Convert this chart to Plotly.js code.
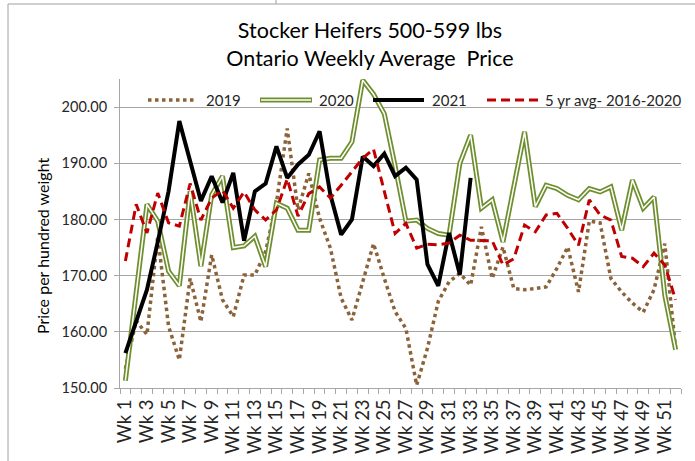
<!DOCTYPE html>
<html>
<head>
<meta charset="utf-8">
<script src="https://cdn.plot.ly/plotly-3.0.1.min.js"></script>
<style>html,body{margin:0;padding:0;background:#fff;}#chart{width:695px;height:461px;}</style>
</head>
<body>
<div id="chart"></div>
<script>
const weeks = ["Wk 1","Wk 2","Wk 3","Wk 4","Wk 5","Wk 6","Wk 7","Wk 8","Wk 9","Wk 10",
  "Wk 11","Wk 12","Wk 13","Wk 14","Wk 15","Wk 16","Wk 17","Wk 18","Wk 19","Wk 20",
  "Wk 21","Wk 22","Wk 23","Wk 24","Wk 25","Wk 26","Wk 27","Wk 28","Wk 29","Wk 30",
  "Wk 31","Wk 32","Wk 33","Wk 34","Wk 35","Wk 36","Wk 37","Wk 38","Wk 39","Wk 40",
  "Wk 41","Wk 42","Wk 43","Wk 44","Wk 45","Wk 46","Wk 47","Wk 48","Wk 49","Wk 50",
  "Wk 51","Wk 52"];
const tickLabels = ["Wk 1","","Wk 3","","Wk 5","","Wk 7","","Wk 9","",
  "Wk 11","","Wk 13","","Wk 15","","Wk 17","","Wk 19","",
  "Wk 21","","Wk 23","","Wk 25","","Wk 27","","Wk 29","",
  "Wk 31","","Wk 33","","Wk 35","","Wk 37","","Wk 39","",
  "Wk 41","","Wk 43","","Wk 45","","Wk 47","","Wk 49","",
  "Wk 51",""];
const price2019 = [153.4,162,159.5,177,161,155,169.5,161.8,173.7,165.7,
  162.7,170.1,170.1,174.3,183,196.2,181.7,188.2,180.2,174.9,
  166,162.1,168.9,175.7,169.5,163.6,160.6,150.5,157.1,165.4,
  168.9,170.4,168.3,178.7,169.5,175.1,167.7,167.5,167.7,168,
  171.3,175.1,167.1,179.7,179.4,169.5,167.1,165.1,163.5,167.5,
  175.7,157];
const price2020 = [151.3,167,182.7,179.7,170.8,168.2,185,171.7,184.4,187.7,
  175,175.3,177,171.6,182.9,182,178.1,178.1,190.6,190.9,
  190.9,193.8,204.8,202.3,198.8,189.5,179.7,179.9,178.4,177.5,
  177.2,190,195,182,183.5,176,186.1,195.6,182.3,186.1,
  185.5,184.3,183.5,185.5,184.9,185.8,178.1,187,182,184,
  166.5,156.8];
const price2021 = [156.2,162,167.5,176,185,197.5,190.5,183.3,187.7,183,
  188.3,176.2,185,186.4,193,187.4,189.8,191.5,195.7,184.4,
  177.3,180,191.2,189.5,191.7,187.7,189.2,187.1,172,168.2,
  177.6,170.2,187.4];
const avg5yr = [172.6,182.7,177.6,184.7,179.4,178.8,186.4,179.9,183.8,185.2,
  182,184.9,181.7,179.9,181.7,187.2,180.6,184.6,185.8,183.8,
  186.1,188.5,190.9,192.5,184.9,177.5,179.3,174.9,175.6,175.5,
  175.8,177.2,176.3,176.2,176.2,171.9,173,179,177.8,180.8,
  181.1,178.4,175.4,183.5,180.8,179.9,173.4,173.1,171.6,174,
  171.9,165.7];
const seriesNames = ["2019","2020","2021","5 yr avg- 2016-2020"];
const yTitle = "Price per hundred weight";

const C2019 = '#8c6239', C2020 = '#6f8f2f', C2021 = '#000000', CAVG = '#c00000';
const FONT = 'Lato, "Open Sans", sans-serif';

const traces = [
  {x: weeks, y: price2019, type: 'scatter', mode: 'lines', name: seriesNames[0],
   line: {color: C2019, width: 3.5, dash: 'dot'}, showlegend: false},
  {x: weeks, y: price2020, type: 'scatter', mode: 'lines', name: seriesNames[1],
   line: {color: C2020, width: 5}, showlegend: false},
  {x: weeks, y: price2020, type: 'scatter', mode: 'lines', name: seriesNames[1] + ' inner',
   line: {color: '#ffffff', width: 1.5}, showlegend: false, hoverinfo: 'skip'},
  {x: weeks.slice(0, price2021.length), y: price2021, type: 'scatter', mode: 'lines', name: seriesNames[2],
   line: {color: C2021, width: 4}, showlegend: false},
  {x: weeks, y: avg5yr, type: 'scatter', mode: 'lines', name: seriesNames[3],
   line: {color: CAVG, width: 3, dash: '9px,5px'}, showlegend: false}
];

const L = 120, R = 14, T = 79, B = 73, W = 695, H = 461;
const pw = W - L - R, ph = H - T - B;
const px = v => (v - L) / pw;
const py = v => (H - B - v) / ph;

const legY = 100;
const shapes = [
  {type:'line', xref:'paper', yref:'paper', x0:px(8), x1:px(695), y0:py(4), y1:py(4), line:{color:'#a0a0a0', width:1}},
  {type:'line', xref:'paper', yref:'paper', x0:px(8), x1:px(8), y0:py(4), y1:py(461), line:{color:'#a0a0a0', width:1}},
  {type:'line', xref:'paper', yref:'paper', x0:px(276), x1:px(276), y0:py(0), y1:py(4), line:{color:'#a0a0a0', width:1}},
  {type:'line', xref:'paper', yref:'paper', x0:px(148), x1:px(197), y0:py(legY), y1:py(legY), line:{color:C2019, width:3.5, dash:'dot'}},
  {type:'line', xref:'paper', yref:'paper', x0:px(260), x1:px(312), y0:py(legY), y1:py(legY), line:{color:C2020, width:5}},
  {type:'line', xref:'paper', yref:'paper', x0:px(261), x1:px(311), y0:py(legY), y1:py(legY), line:{color:'#ffffff', width:1.5}},
  {type:'line', xref:'paper', yref:'paper', x0:px(373), x1:px(424), y0:py(legY), y1:py(legY), line:{color:C2021, width:4}},
  {type:'line', xref:'paper', yref:'paper', x0:px(487), x1:px(538), y0:py(legY), y1:py(legY), line:{color:CAVG, width:3, dash:'9px,5px'}}
];
const legX = [204, 317, 430, 543];
const annotations = seriesNames.map((n, i) => ({
  text: n, xref:'paper', yref:'paper', x: px(legX[i]), y: py(legY),
  xanchor:'left', yanchor:'middle', showarrow:false,
  font:{family: FONT, size: 15, color:'#262626'}
}));
annotations.push({
  text: yTitle, xref:'paper', yref:'paper', x: px(42), y: py(246),
  xanchor:'center', yanchor:'middle', showarrow:false, textangle:-90,
  font:{family: FONT, size: 16, color:'#000000'}
});

const layout = {
  width: W, height: H,
  margin: {l: L, r: R, t: T, b: B, pad: 0},
  paper_bgcolor: '#ffffff', plot_bgcolor: '#ffffff',
  title: {
    text: 'Stocker Heifers 500-599 lbs<br>Ontario Weekly Average \u00a0Price',
    font: {family: FONT, size: 21.5, color: '#000000'},
    x: 370 / W, xanchor: 'center', y: 1 - 38 / H, yanchor: 'top'
  },
  xaxis: {
    type: 'category', categoryorder: 'array', categoryarray: weeks,
    range: [-0.5, weeks.length - 0.5],
    tickvals: weeks, ticktext: tickLabels, tickangle: -90,
    tickson: 'boundaries', ticks: 'outside', ticklen: 5, tickcolor: '#a6a6a6',
    ticklabelstandoff: 3,
    showline: true, linecolor: '#a6a6a6', linewidth: 1,
    showgrid: false, zeroline: false,
    tickfont: {family: FONT, size: 18.5, color: '#262626'}
  },
  yaxis: {
    range: [150, 205], tick0: 150, dtick: 10, tickformat: '.2f',
    ticks: 'outside', ticklen: 5, tickcolor: '#a6a6a6',
    ticklabelstandoff: 4,
    showline: true, linecolor: '#a6a6a6', linewidth: 1,
    showgrid: true, gridcolor: '#a6a6a6', gridwidth: 1, zeroline: false,
    tickfont: {family: FONT, size: 14.5, color: '#262626'}
  },
  shapes: shapes,
  annotations: annotations,
  showlegend: false
};

Plotly.newPlot('chart', traces, layout, {displayModeBar: false, staticPlot: true});
</script>
</body>
</html>
